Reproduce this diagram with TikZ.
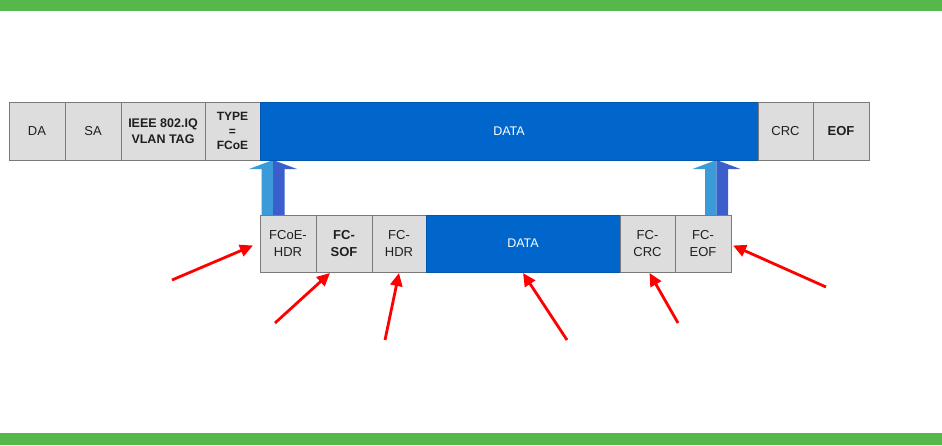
\documentclass[tikz,border=0pt]{standalone}
\usepackage{fontspec}
\setmainfont{Liberation Sans}
\usetikzlibrary{arrows.meta,positioning}
\definecolor{fcgreen}{HTML}{56B84A}
\definecolor{fcblue}{HTML}{0066CC}
\definecolor{fcgray}{HTML}{DDDDDD}
\definecolor{fcedge}{HTML}{7A7A7A}
\definecolor{fclight}{HTML}{3B9AD8}
\definecolor{fcdark}{HTML}{3A5FCD}
\tikzset{
  cell/.style={draw=fcedge, fill=fcgray, align=center, inner sep=1pt, outer sep=0pt,
    minimum height=58, text=black!88, font=\fontsize{13}{16.5}\selectfont},
  datacell/.style={cell, fill=fcblue, draw=fcblue!85!black, text=white,
    font=\fontsize{12.5}{15}\selectfont},
  pointer/.style={-{Triangle[length=13pt,width=12pt]}, line width=2.8pt, draw=red},
  band/.style={fill=fcgreen}
}
% two-tone up arrow, #1 = centre x
\newcommand\fcarrow[1]{%
  \fill[fclight] ({#1-11.5},215) -- ({#1-11.5},169) -- ({#1-24},169) -- (#1,160) -- (#1,215) -- cycle;
  \fill[fcdark] (#1,215) -- (#1,160) -- ({#1+24},169) -- ({#1+11.5},169) -- ({#1+11.5},215) -- cycle;}

\begin{document}
\begin{tikzpicture}[x=1pt, y=-1pt]
  \useasboundingbox (0,0) rectangle (942,445);
  \fill[band] (0,0) rectangle (942,11);
  \fill[band] (0,433) rectangle (942,445);

  \fcarrow{273}
  \fcarrow{716.5}

  % Ethernet frame
  \node[cell, anchor=west, minimum width=56] (da) at (9,131) {DA};
  \node[cell, right=0pt of da, minimum width=56] (sa) {SA};
  \node[cell, right=0pt of sa, minimum width=84, font=\fontsize{12.5}{15.5}\selectfont\bfseries] (vlan) {IEEE 802.IQ\\VLAN TAG};
  \node[cell, right=0pt of vlan, minimum width=55, font=\fontsize{12}{14.5}\selectfont\bfseries] (type) {TYPE\\=\\FCoE};
  \node[datacell, right=0pt of type, minimum width=498] (data) {DATA};
  \node[cell, right=0pt of data, minimum width=55] (crc) {CRC};
  \node[cell, right=0pt of crc, minimum width=56, font=\fontsize{13}{16.5}\selectfont\bfseries] (eof) {EOF};

  % FCoE frame
  \node[cell, anchor=west, minimum width=56, minimum height=57] (fcoehdr) at (260,243.5) {FCoE-\\HDR};
  \node[cell, right=0pt of fcoehdr, minimum width=56, minimum height=57, font=\fontsize{13}{16.5}\selectfont\bfseries] (fcsof) {FC-\\SOF};
  \node[cell, right=0pt of fcsof, minimum width=54, minimum height=57] (fchdr) {FC-\\HDR};
  \node[datacell, right=0pt of fchdr, minimum width=194, minimum height=57] (fcdata) {DATA};
  \node[cell, right=0pt of fcdata, minimum width=55, minimum height=57] (fccrc) {FC-\\CRC};
  \node[cell, right=0pt of fccrc, minimum width=56, minimum height=57] (fceof) {FC-\\EOF};

  % pointers
  \coordinate (p1) at (172,280);
  \coordinate (p2) at (275,323);
  \coordinate (p3) at (385,340);
  \coordinate (p4) at (567,340);
  \coordinate (p5) at (678,323);
  \coordinate (p6) at (826,287);
  \draw[pointer] (p1) -- ([xshift=-7pt,yshift=-2pt]fcoehdr.west);
  \draw[pointer] (p2) -- ([xshift=-14pt,yshift=-1pt]fcsof.south);
  \draw[pointer] (p3) -- ([yshift=-1pt]fchdr.south);
  \draw[pointer] (p4) -- ([yshift=-1pt]fcdata.south);
  \draw[pointer] (p5) -- ([xshift=2pt,yshift=-1pt]fccrc.south);
  \draw[pointer] (p6) -- ([xshift=2pt,yshift=-2pt]fceof.east);
\end{tikzpicture}
\end{document}
